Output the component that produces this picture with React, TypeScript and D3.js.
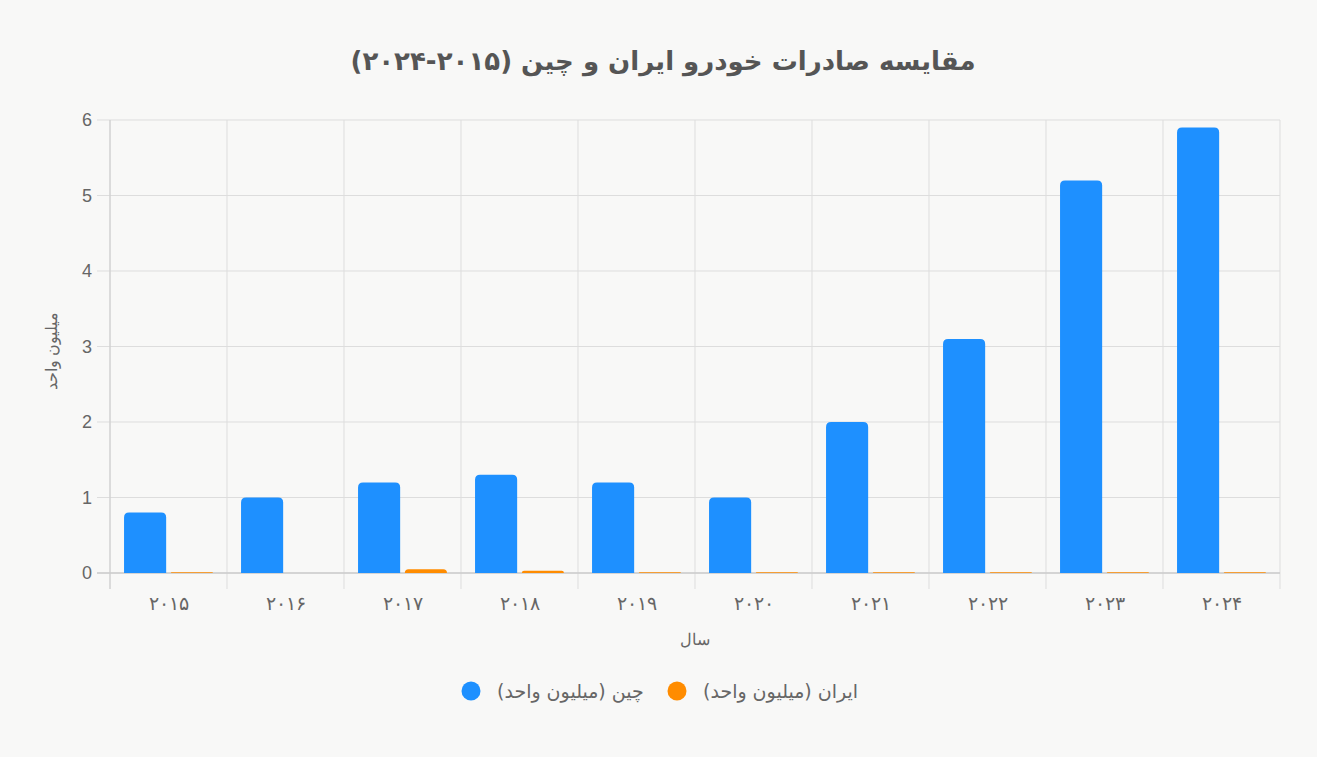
import React from 'react';
import * as d3 from 'd3';

const years = ['۲۰۱۵', '۲۰۱۶', '۲۰۱۷', '۲۰۱۸', '۲۰۱۹', '۲۰۲۰', '۲۰۲۱', '۲۰۲۲', '۲۰۲۳', '۲۰۲۴'];
const chinaValues = [0.8, 1.0, 1.2, 1.3, 1.2, 1.0, 2.0, 3.1, 5.2, 5.9];
const iranValues = [0.01, 0, 0.05, 0.03, 0.01, 0.01, 0.01, 0.01, 0.01, 0.01];
const yTicks = [0, 1, 2, 3, 4, 5, 6];

const seriesNames = ['چین (میلیون واحد)', 'ایران (میلیون واحد)'];
const seriesColors = ['#1E90FF', '#FF8C00'];

const W = 1317;
const H = 757;
const margin = { top: 120, right: 37, bottom: 184, left: 110 };
const font = '"Liberation Sans", Arial, sans-serif';
const dejavu = '"DejaVu Sans", sans-serif';

// bar with rounded top corners
const barPath = (x: number, y: number, w: number, h: number, radius: number) => {
  const r = Math.max(0, Math.min(radius, w / 2, h));
  return `M${x},${y + h}V${y + r}Q${x},${y} ${x + r},${y}H${x + w - r}Q${x + w},${y} ${x + w},${y + r}V${y + h}Z`;
};

export default function App() {
  const innerW = W - margin.left - margin.right;
  const innerH = H - margin.top - margin.bottom;

  const x = d3.scaleBand().domain(years).range([0, innerW]).paddingInner(0).paddingOuter(0);
  const inner = d3.scaleBand().domain(['0', '1']).range([x.bandwidth() * 0.1, x.bandwidth() * 0.9]);
  const y = d3.scaleLinear().domain([0, 6]).range([innerH, 0]);

  const barW = inner.bandwidth() * 0.9;
  const series = [chinaValues, iranValues];

  return (
    <svg width={W} height={H} style={{ position: 'absolute', left: 0, top: 0, background: '#f8f8f7' }}>
      <rect width={W} height={H} fill="#f8f8f7" />
      <text x={663} y={70} textAnchor="middle" fontFamily={dejavu} fontWeight="bold" fontSize={26} fill="#555">
        مقایسه صادرات خودرو ایران و چین (۲۰۱۵-۲۰۲۴)
      </text>

      <g transform={`translate(${margin.left},${margin.top})`}>
        {/* horizontal grid */}
        {yTicks.map(t => (
          <g key={t}>
            <line x1={-13} x2={innerW} y1={y(t)} y2={y(t)} stroke="#ddd" strokeWidth={1} />
            <text x={-18} y={y(t)} dy="0.35em" textAnchor="end" fontFamily={font} fontSize={18} fill="#666">
              {t}
            </text>
          </g>
        ))}
        {/* vertical grid */}
        {years.map(yr => (
          <line key={yr} x1={x(yr)!} x2={x(yr)!} y1={0} y2={innerH + 16} stroke="#ddd" strokeWidth={1} />
        ))}
        <line x1={innerW} x2={innerW} y1={0} y2={innerH + 16} stroke="#ddd" strokeWidth={1} />
        <line x1={0} x2={0} y1={0} y2={innerH + 16} stroke="#ccc" strokeWidth={1} />
        <line x1={-13} x2={innerW} y1={innerH} y2={innerH} stroke="#ccc" strokeWidth={1.5} />

        {/* bars */}
        {series.map((vals, s) =>
          vals.map((v, i) => {
            if (v <= 0) return null;
            const bx = x(years[i])! + inner(String(s))! + (inner.bandwidth() - barW) / 2;
            const by = y(v);
            return (
              <path key={`${s}-${i}`} d={barPath(bx, by, barW, innerH - by, 5)} fill={seriesColors[s]} />
            );
          })
        )}

        {/* x tick labels */}
        {years.map(yr => (
          <text key={yr} x={x(yr)! + x.bandwidth() / 2} y={innerH + 37} textAnchor="middle" fontFamily="serif" fontSize={19} fill="#666">
            {yr}
          </text>
        ))}
        <text x={innerW / 2} y={innerH + 72} textAnchor="middle" fontFamily="serif" fontSize={16} fill="#666">
          سال
        </text>
        <text transform={`translate(-59,${innerH / 2 + 4}) rotate(-90)`} textAnchor="middle" dy="0.35em" fontFamily="serif" fontSize={16} fill="#666">
          میلیون واحد
        </text>
      </g>

      {/* legend */}
      {seriesNames.map((name, s) => {
        const lx = s === 0 ? 471 : 677;
        return (
          <g key={name}>
            <circle cx={lx} cy={691} r={9.5} fill={seriesColors[s]} />
            <text x={lx + 26} y={691} dy="0.35em" textAnchor="start" fontFamily={dejavu} fontSize={19} fill="#666">
              {name}
            </text>
          </g>
        );
      })}
    </svg>
  );
}
